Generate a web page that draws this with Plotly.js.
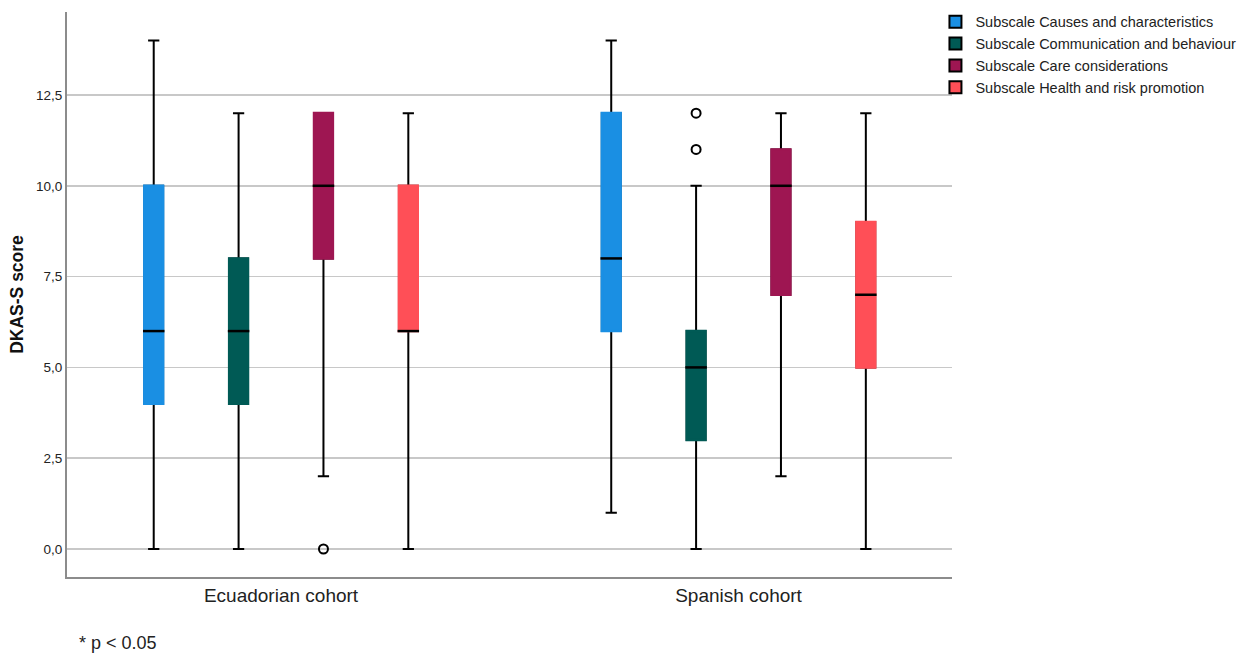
<!DOCTYPE html>
<html>
<head>
<meta charset="utf-8">
<script src="https://cdn.plot.ly/plotly-3.0.1.min.js"></script>
<style>html,body{margin:0;padding:0;background:#fff;}#chart{width:1257px;height:653px;}</style>
</head>
<body>
<div id="chart"></div>
<script>
// ---- data ----
const cohorts = ['Ecuadorian cohort', 'Spanish cohort'];
const subscales = [
  'Subscale Causes and characteristics',
  'Subscale Communication and behaviour',
  'Subscale Care considerations',
  'Subscale Health and risk promotion'
];
const colors = ['#1a8fe3', '#005a55', '#9e1652', '#ff4f57'];
// per subscale: [Ecuadorian, Spanish]
const whiskerLow  = [[0, 1], [0, 0], [2, 2], [0, 0]];
const q1Vals      = [[4, 6], [4, 3], [8, 7], [6, 5]];
const medianVals  = [[6, 8], [6, 5], [10, 10], [6, 7]];
const q3Vals      = [[10, 12], [8, 6], [12, 11], [10, 9]];
const whiskerHigh = [[14, 14], [12, 10], [12, 12], [12, 12]];
const outliers    = [[[], []], [[], [11, 12]], [[0], []], [[], []]];
const yTicks = [0, 2.5, 5, 7.5, 10, 12.5];

// ---- layout helpers ----
const spacing = 0.1855;
const boxW = 0.041;
const medHalf = boxW / 2 + 0.003;
function pos(k, g) { return g + (k - 1.5) * spacing; }

const traces = [];
subscales.forEach((name, k) => {
  const xs = cohorts.map((c, g) => pos(k, g));
  traces.push({
    type: 'box', name: name, x: xs,
    q1: q1Vals[k], median: medianVals[k], q3: q3Vals[k],
    lowerfence: whiskerLow[k], upperfence: whiskerHigh[k],
    width: boxW, whiskerwidth: 0.6, boxpoints: false,
    fillcolor: colors[k], line: { color: '#000', width: 2 },
    hoverinfo: 'skip', showlegend: true
  });
});
subscales.forEach((name, k) => {
  const xs = cohorts.map((c, g) => pos(k, g));
  traces.push({
    type: 'box', name: name, x: xs,
    q1: q1Vals[k], median: medianVals[k], q3: q3Vals[k],
    lowerfence: q1Vals[k], upperfence: q3Vals[k],
    width: boxW, whiskerwidth: 0, boxpoints: false,
    fillcolor: colors[k], line: { color: colors[k], width: 2.6 },
    hoverinfo: 'skip', showlegend: false
  });
});
// median lines
const mx = [], my = [];
subscales.forEach((name, k) => {
  cohorts.forEach((c, g) => {
    const p = pos(k, g);
    mx.push(p - medHalf, p + medHalf, null);
    my.push(medianVals[k][g], medianVals[k][g], null);
  });
});
traces.push({ type: 'scatter', mode: 'lines', x: mx, y: my, line: { color: '#000', width: 2.5 },
  hoverinfo: 'skip', showlegend: false });
// outliers
const ox = [], oy = [];
subscales.forEach((name, k) => {
  cohorts.forEach((c, g) => {
    outliers[k][g].forEach(v => { ox.push(pos(k, g)); oy.push(v); });
  });
});
traces.push({ type: 'scatter', mode: 'markers', x: ox, y: oy,
  marker: { symbol: 'circle-open', size: 9, color: '#000', line: { width: 2, color: '#000' } },
  hoverinfo: 'skip', showlegend: false });

const layout = {
  width: 1257, height: 653,
  margin: { l: 67, r: 305, t: 12, b: 76, autoexpand: false },
  paper_bgcolor: '#fff', plot_bgcolor: '#fff',
  font: { family: 'Liberation Sans, Arial, sans-serif', color: '#222', size: 13 },
  separators: ', ',
  boxmode: 'overlay',
  showlegend: true,
  legend: { x: 0.9813, y: 1.011, xanchor: 'left', yanchor: 'top', font: { size: 14.5, color: '#222' },
    bgcolor: 'rgba(0,0,0,0)', tracegroupgap: 0, itemwidth: 30 },
  xaxis: {
    range: [-0.4678, 1.4666], tickvals: [0, 1], ticktext: cohorts,
    showgrid: false, zeroline: false, showline: true, linecolor: '#8c8c8c', linewidth: 2,
    ticks: '', tickfont: { size: 19, color: '#222' }, fixedrange: true
  },
  yaxis: {
    range: [-0.771, 14.785], tickvals: yTicks, tickformat: '.1f',
    showgrid: true, gridcolor: '#c8c8c8', gridwidth: 1.5, zeroline: false,
    showline: true, linecolor: '#8c8c8c', linewidth: 2, ticks: '',
    tickfont: { size: 13.5, color: '#222' },
    title: { text: '<b>DKAS-S score</b>', font: { size: 17.5, color: '#111' }, standoff: 8 },
    fixedrange: true
  },
  annotations: [{
    xref: 'paper', yref: 'paper', x: 0.0113, y: -0.1168, xanchor: 'left', yanchor: 'middle',
    text: '* p < 0.05', showarrow: false, font: { size: 18, color: '#222' }
  }]
};
Plotly.newPlot('chart', traces, layout, { displayModeBar: false, staticPlot: true });
</script>
</body>
</html>
